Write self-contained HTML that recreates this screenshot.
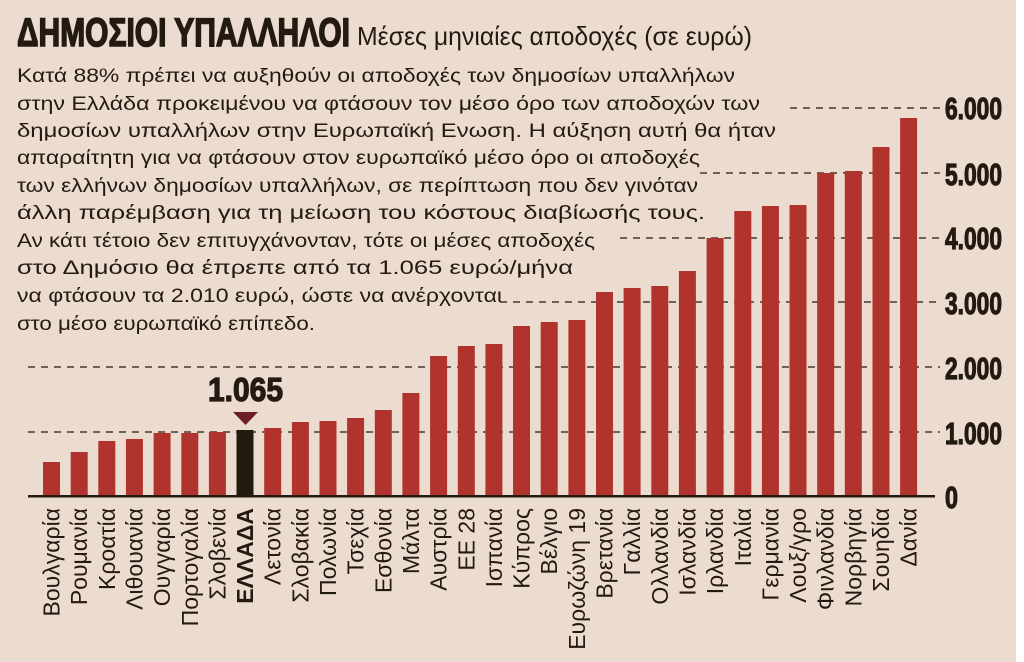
<!DOCTYPE html>
<html><head><meta charset="utf-8"><style>
html,body{margin:0;padding:0;background:#fff;}
svg{display:block;}
</style></head><body>
<svg width="1024" height="662" viewBox="0 0 1024 662" xmlns="http://www.w3.org/2000/svg">
<rect x="0" y="0" width="1016" height="662" fill="#ecdccf"/>
<g font-family="'Liberation Sans Narrow','Liberation Sans',sans-serif" fill="#231a10">
<text x="17" y="46" font-size="40" font-weight="bold" stroke="#231a10" stroke-width="1.6" textLength="333" lengthAdjust="spacingAndGlyphs">ΔΗΜΟΣΙΟΙ ΥΠΑΛΛΗΛΟΙ</text>
<text x="357" y="45" font-size="26" textLength="395" lengthAdjust="spacingAndGlyphs">Μέσες μηνιαίες αποδοχές (σε ευρώ)</text>
</g>
<g font-family="'Liberation Sans',sans-serif" fill="#231a10" font-size="19">
<text x="17" y="82" textLength="718" lengthAdjust="spacingAndGlyphs">Κατά 88% πρέπει να αυξηθούν οι αποδοχές των δημοσίων υπαλλήλων</text>
<text x="17" y="110" textLength="743" lengthAdjust="spacingAndGlyphs">στην Ελλάδα προκειμένου να φτάσουν τον μέσο όρο των αποδοχών των</text>
<text x="17" y="137" textLength="759" lengthAdjust="spacingAndGlyphs">δημοσίων υπαλλήλων στην Ευρωπαϊκή Ενωση. Η αύξηση αυτή θα ήταν</text>
<text x="17" y="164" textLength="683" lengthAdjust="spacingAndGlyphs">απαραίτητη για να φτάσουν στον ευρωπαϊκό μέσο όρο οι αποδοχές</text>
<text x="17" y="192" textLength="681" lengthAdjust="spacingAndGlyphs">των ελλήνων δημοσίων υπαλλήλων, σε περίπτωση που δεν γινόταν</text>
<text x="17" y="219" textLength="688" lengthAdjust="spacingAndGlyphs">άλλη παρέμβαση για τη μείωση του κόστους διαβίωσής τους.</text>
<text x="17" y="247" textLength="578" lengthAdjust="spacingAndGlyphs">Αν κάτι τέτοιο δεν επιτυγχάνονταν, τότε οι μέσες αποδοχές</text>
<text x="17" y="274" textLength="556" lengthAdjust="spacingAndGlyphs">στο Δημόσιο θα έπρεπε από τα 1.065 ευρώ/μήνα</text>
<text x="17" y="302" textLength="485" lengthAdjust="spacingAndGlyphs">να φτάσουν τα 2.010 ευρώ, ώστε να ανέρχονται</text>
<text x="17" y="330" textLength="298" lengthAdjust="spacingAndGlyphs">στο μέσο ευρωπαϊκό επίπεδο.</text>
</g>
<g stroke="#231a10" stroke-width="1.3" stroke-dasharray="7,6">
<line x1="28" y1="432" x2="940" y2="432"/>
<line x1="28" y1="367" x2="940" y2="367"/>
<line x1="500" y1="302" x2="940" y2="302"/>
<line x1="620" y1="238" x2="940" y2="238"/>
<line x1="700" y1="173" x2="940" y2="173"/>
<line x1="790" y1="108" x2="940" y2="108"/>
</g>
<g id="bars"></g>
<rect x="28" y="495" width="907" height="2.5" fill="#231a10"/>
<g font-family="'Liberation Sans Narrow','Liberation Sans',sans-serif" font-weight="bold" fill="#231a10" stroke="#231a10" stroke-width="1.2" font-size="31">
<text x="945" y="119" textLength="57" lengthAdjust="spacingAndGlyphs">6.000</text>
<text x="945" y="185" textLength="57" lengthAdjust="spacingAndGlyphs">5.000</text>
<text x="945" y="249" textLength="57" lengthAdjust="spacingAndGlyphs">4.000</text>
<text x="945" y="314" textLength="57" lengthAdjust="spacingAndGlyphs">3.000</text>
<text x="945" y="379" textLength="57" lengthAdjust="spacingAndGlyphs">2.000</text>
<text x="945" y="444" textLength="57" lengthAdjust="spacingAndGlyphs">1.000</text>
<text x="945" y="508" textLength="13" lengthAdjust="spacingAndGlyphs">0</text>
<text x="208" y="401" font-size="33" textLength="75" lengthAdjust="spacingAndGlyphs">1.065</text>
</g>
<polygon points="233,412 258,412 245.5,425" fill="#6b1f22"/>
<g id="labels" font-family="'Liberation Sans',sans-serif" font-size="23" fill="#231a10"></g>
<script>
var names=["Βουλγαρία","Ρουμανία","Κροατία","Λιθουανία","Ουγγαρία","Πορτογαλία","Σλοβενία","ΕΛΛΑΔΑ","Λετονία","Σλοβακία","Πολωνία","Τσεχία","Εσθονία","Μάλτα","Αυστρία","ΕΕ 28","Ισπανία","Κύπρος","Βέλγιο","Ευρωζώνη 19","Βρετανία","Γαλλία","Ολλανδία","Ισλανδία","Ιρλανδία","Ιταλία","Γερμανία","Λουξ/γρο","Φινλανδία","Νορβηγία","Σουηδία","Δανία"];
var tops=[462,452,441,439,433,433,432,430,428,422,421,418,410,393,356,346,344,326,322,320,292,288,286,271,238,211,206,205,173,171,147,118];
var ns="http://www.w3.org/2000/svg",b=document.getElementById("bars"),l=document.getElementById("labels");
for(var i=0;i<32;i++){var x=43+i*27.65;var r=document.createElementNS(ns,"rect");r.setAttribute("x",x.toFixed(1));r.setAttribute("y",tops[i]);r.setAttribute("width","17");r.setAttribute("height",496-tops[i]);r.setAttribute("fill",i==7?"#231a0e":"#b0332e");b.appendChild(r);
var t=document.createElementNS(ns,"text");var cx=x+8.5+8;t.setAttribute("transform","translate("+cx.toFixed(1)+",508) rotate(-90)");t.setAttribute("text-anchor","end");if(i==7){t.setAttribute("font-weight","bold");}t.textContent=names[i];l.appendChild(t);}
</script>
</svg>
</body></html>
